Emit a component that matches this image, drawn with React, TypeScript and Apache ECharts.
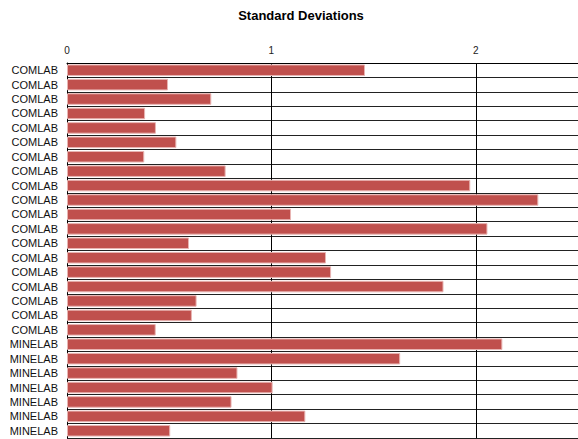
import React, { useEffect, useRef } from "react";
import * as echarts from "echarts";

const categories: string[] = [
  "COMLAB", "COMLAB", "COMLAB", "COMLAB", "COMLAB", "COMLAB", "COMLAB",
  "COMLAB", "COMLAB", "COMLAB", "COMLAB", "COMLAB", "COMLAB", "COMLAB",
  "COMLAB", "COMLAB", "COMLAB", "COMLAB", "COMLAB",
  "MINELAB", "MINELAB", "MINELAB", "MINELAB", "MINELAB", "MINELAB", "MINELAB",
];

const stdDevs: number[] = [
  1.458, 0.494, 0.706, 0.382, 0.435, 0.535, 0.378, 0.776, 1.973, 2.306,
  1.096, 2.057, 0.597, 1.267, 1.292, 1.842, 0.634, 0.611, 0.434,
  2.13, 1.63, 0.834, 1.006, 0.805, 1.166, 0.505,
];

const xTicks = { min: 0, max: 2.5, interval: 1 };

export default function App() {
  const ref = useRef<HTMLDivElement>(null);
  useEffect(() => {
    if (!ref.current) return;
    const chart = echarts.init(ref.current, undefined, { renderer: "svg" });
    chart.setOption({
      animation: false,
      backgroundColor: "#ffffff",
      title: {
        text: "Standard Deviations",
        left: 296,
        top: 4,
        textAlign: "center",
        textStyle: {
          fontFamily: "Liberation Sans, Arial, sans-serif",
          fontSize: 13,
          fontWeight: "bold",
          color: "#000",
        },
      },
      grid: { left: 67, right: 0, top: 63, bottom: 1, containLabel: false },
      xAxis: {
        type: "value",
        position: "top",
        min: xTicks.min,
        max: xTicks.max,
        interval: xTicks.interval,
        axisLine: { show: true, lineStyle: { color: "#000", width: 1 } },
        axisTick: { show: false },
        axisLabel: {
          show: true,
          margin: 8,
          showMaxLabel: false,
          fontFamily: "Liberation Sans, Arial, sans-serif",
          fontSize: 10,
          color: "#222",
        },
        splitLine: { show: true, lineStyle: { color: "#000", width: 1 } },
      },
      yAxis: {
        type: "category",
        inverse: true,
        data: categories,
        axisLine: { show: true, lineStyle: { color: "#000", width: 1 } },
        axisTick: { show: false },
        axisLabel: {
          interval: 0,
          margin: 9,
          fontFamily: "Liberation Sans, Arial, sans-serif",
          fontSize: 11,
          color: "#111",
        },
        splitLine: {
          show: true,
          interval: 0,
          lineStyle: { color: "#222", width: 1 },
        },
      },
      series: [
        {
          type: "bar",
          data: stdDevs,
          barCategoryGap: "20%",
          itemStyle: {
            color: "#c0504d",
            borderColor: "#e8b4b2",
            borderWidth: 1,
          },
        },
      ],
    });
    return () => chart.dispose();
  }, []);
  return (
    <div
      ref={ref}
      style={{ position: "fixed", left: 0, top: 0, width: 578, height: 439 }}
    />
  );
}
